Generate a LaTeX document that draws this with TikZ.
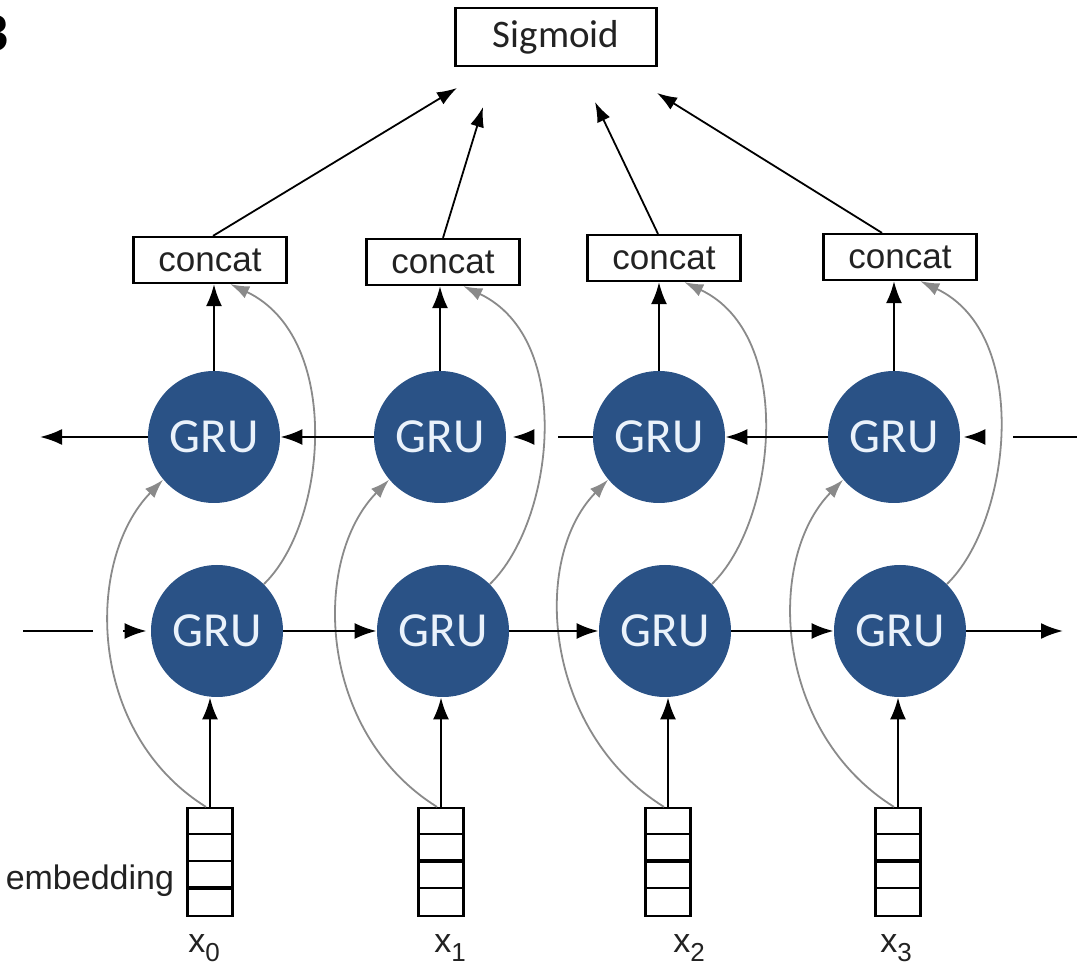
\documentclass[tikz,border=0pt]{standalone}
\usepackage{fontspec}
\setmainfont{Liberation Sans}
\newfontfamily\calib{Carlito}
\usetikzlibrary{arrows.meta,calc,positioning}
\definecolor{grublue}{HTML}{2A5286}
\definecolor{grutext}{HTML}{EAF2FB}
\definecolor{skipgray}{HTML}{8A8A8A}
\definecolor{inkgray}{HTML}{222222}
\newcommand{\xsub}[1]{x\raisebox{-0.5ex}{\fontsize{13}{13}\selectfont #1}}
\tikzset{
  gru/.style={circle,fill=grublue,minimum size=66pt,inner sep=0pt,
    text=grutext,font=\calib\fontsize{24.5}{26}\selectfont},
  concatbox/.style={draw,line width=1.1pt,minimum width=76.5pt,minimum height=23pt,
    inner sep=0pt,text=inkgray,font=\fontsize{17.5}{19}\selectfont},
  sigbox/.style={draw,line width=1.1pt,minimum width=100.5pt,minimum height=29pt,
    inner sep=0pt,text=inkgray,font=\calib\fontsize{19.5}{21}\selectfont},
  embbox/.style={draw,line width=1.1pt,minimum width=22.5pt,minimum height=54pt,inner sep=0pt},
  arr/.style={line width=1.2pt,-{Latex[length=11pt,width=8pt]}},
  arrthin/.style={line width=0.9pt,-{Latex[length=10pt,width=7pt]}},
  skip/.style={skipgray,line width=0.9pt,-{Latex[length=9.5pt,width=6.5pt]}},
  plain/.style={line width=1.2pt}
}

\begin{document}
\begin{tikzpicture}[x=0.5pt,y=-0.5pt]
    \useasboundingbox (0,0) rectangle (1089,973);

    % cut off letter at the corner
    \node[anchor=east,inner sep=0pt,font=\calib\bfseries\fontsize{28}{30}\selectfont] (tag) at (9,33) {B};

    % output
    \node[sigbox] (sig) at (556,37) {Sigmoid};

    % concat boxes
    \foreach \i/\x/\y in {1/210/260,2/443/262,3/664/258,4/900/257}
        \node[concatbox] (c\i) at (\x,\y) {concat};

    % backward and forward GRUs
    \foreach \i/\x in {1/214,2/440,3/659,4/894}
        \node[gru] (t\i) at (\x,437) {GRU};
    \foreach \i/\x in {1/217,2/443,3/665,4/900}
        \node[gru] (b\i) at (\x,631) {GRU};

    % embeddings
    \foreach \i/\x/\t in {1/210/3,2/441/2,3/668/2,4/898/2} {
        \node[embbox] (e\i) at (\x,862) {};
        \foreach \k in {1,2,3}
            \draw[line width=1.1pt] ($(e\i.north west)+(0,27*\k)$) -- ++(45,0);
        \draw[line width=2pt] ($(e\i.north west)+(0,27*\t)$) -- ++(45,0);
    }
    \node[anchor=base east,inner sep=0pt,text=inkgray,font=\fontsize{17}{18}\selectfont]
        (emb) at ($(e1.south west)+(-12,-28)$) {embedding};

    \foreach \i/\x/\n in {1/204/0,2/450/1,3/689/2,4/896/3}
        \node[inner sep=0pt,text=inkgray,font=\fontsize{17}{18}\selectfont] (l\i) at (\x,948) {\xsub{\n}};

    % inputs and outputs of the columns
    \foreach \i in {1,...,4} {
        \draw[arr] (e\i.north) -- (e\i.north |- b\i.south);
        \draw[arr] (t\i.north) -- (t\i.north |- c\i.south);
        \draw[skip] ($(e\i.north)+(-4,0)$) .. controls +(-120,-75) and +(-78,80) .. (t\i.220);
        \draw[skip] (b\i.45) .. controls +(64,-62) and +(112,53) .. (c\i.-50);
    }

    % forward row
    \coordinate (bl1) at (23,631);
    \coordinate (bl2) at (93,631);
    \coordinate (bl3) at (123,631);
    \coordinate (br) at (1063,631);
    \draw[plain] (bl1) -- (bl2);
    \draw[arr,shorten >=2pt] (bl3) -- (b1);
    \draw[arr] (b1) -- (b2);
    \draw[arr] (b2) -- (b3);
    \draw[arr] (b3) -- (b4);
    \draw[arr] (b4) -- (br);

    % backward row
    \coordinate (tl) at (40,437);
    \coordinate (tg1) at (558,437);
    \coordinate (tg2) at (527,437);
    \coordinate (tr1) at (1013,437);
    \coordinate (tr2) at (1077,437);
    \coordinate (tr3) at (985,437);
    \draw[arr] (t1) -- (tl);
    \draw[arr] (t2) -- (t1);
    \draw[plain] (t3) -- (tg1);
    \draw[arr,shorten >=3pt] (tg2) -- (t2);
    \draw[arr] (t4) -- (t3);
    \draw[plain] (tr1) -- (tr2);
    \draw[arr,shorten >=1.5pt] (tr3) -- (t4);

    % to the sigmoid
    \coordinate (s1) at (457,88);
    \coordinate (s2) at (483,107);
    \coordinate (s3) at (595,102);
    \coordinate (s4) at (657,93);
    \draw[arrthin] ($(c1.north)+(3,0)$) -- (s1);
    \draw[arrthin] (c2.north) -- (s2);
    \draw[arrthin] ($(c3.north)+(-6,0)$) -- (s3);
    \draw[arrthin] ($(c4.north)+(-18,0)$) -- (s4);

\end{tikzpicture}
\end{document}
